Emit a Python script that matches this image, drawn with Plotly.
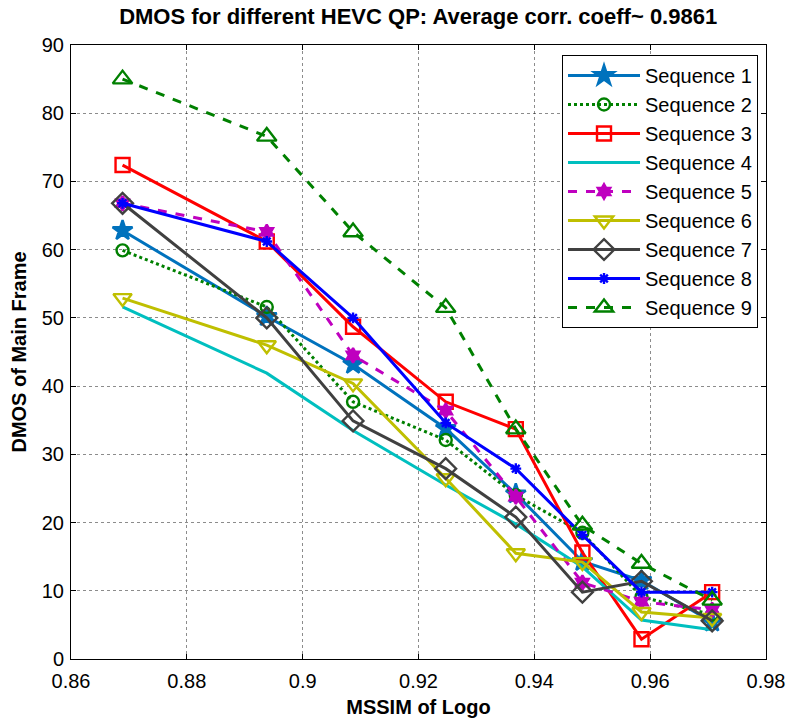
import plotly.graph_objects as go

mssim = [0.8689, 0.8938, 0.9087, 0.9247, 0.9368, 0.9483, 0.9585, 0.9707]

seq1 = [62.8, 50.2, 43.2, 33.8, 24.2, 14.3, 11.5, 5.4]
seq2 = [59.9, 51.6, 37.7, 32.1, 24.0, 18.5, 9.1, 6.5]
seq3 = [72.4, 61.2, 48.7, 37.7, 33.7, 15.6, 2.9, 9.8]
seq4 = [51.6, 41.9, 33.5, 25.5, 19.8, 13.5, 5.7, 4.3]
seq5 = [66.8, 62.6, 44.5, 36.4, 23.8, 11.2, 8.4, 7.2]
seq6 = [52.9, 46.0, 40.4, 26.5, 15.5, 14.2, 6.9, 6.0]
seq7 = [66.8, 50.0, 34.9, 27.9, 20.8, 9.8, 11.4, 5.6]
seq8 = [66.8, 61.2, 50.0, 34.6, 27.9, 18.2, 9.8, 9.8]
seq9 = [85.0, 76.6, 62.6, 51.5, 33.7, 19.6, 14.0, 8.6]

names = ["Sequence 1", "Sequence 2", "Sequence 3", "Sequence 4", "Sequence 5",
         "Sequence 6", "Sequence 7", "Sequence 8", "Sequence 9"]
series = [seq1, seq2, seq3, seq4, seq5, seq6, seq7, seq8, seq9]

x_ticks = [0.86, 0.88, 0.9, 0.92, 0.94, 0.96, 0.98]
x_ticklabels = ["0.86", "0.88", "0.9", "0.92", "0.94", "0.96", "0.98"]
y_ticks = [0, 10, 20, 30, 40, 50, 60, 70, 80, 90]

styles = [
    dict(color="#0072BD", dash="solid", symbol="star", size=15),
    dict(color="#008000", dash="dot", symbol="circle-open", size=12),
    dict(color="#FF0000", dash="solid", symbol="square-open", size=14),
    dict(color="#00BFBF", dash="solid", symbol=None, size=0),
    dict(color="#BF00BF", dash="dash", symbol="hexagram", size=11),
    dict(color="#BFBF00", dash="solid", symbol="triangle-down-open", size=16),
    dict(color="#404040", dash="solid", symbol="diamond-open", size=16),
    dict(color="#0000FF", dash="solid", symbol="asterisk-open", size=9),
    dict(color="#008000", dash="dash", symbol="triangle-up-open", size=17),
]

FONT = "Liberation Sans, Arial, sans-serif"

fig = go.Figure()
for i, (nm, ys, st) in enumerate(zip(names, series, styles)):
    if st["symbol"] is None:
        mode = "lines"
        marker = None
    else:
        mode = "lines+markers"
        marker = dict(symbol=st["symbol"], size=st["size"], color=st["color"],
                      line=dict(color=st["color"], width=2.4))
    fig.add_trace(go.Scatter(
        x=mssim, y=ys, name=nm, mode=mode,
        line=dict(color=st["color"], width=3, dash=st["dash"]),
        marker=marker, legendgroup="g%d" % i,
    ))

axis_common = dict(
    showline=True, linecolor="black", linewidth=1, mirror="ticks",
    ticks="inside", ticklen=5, tickcolor="black",
    showgrid=True, gridcolor="rgba(0,0,0,0.45)", gridwidth=1, griddash="dot",
    zeroline=False, tickfont=dict(family=FONT, size=20, color="black"),
)

fig.update_layout(
    width=789, height=720,
    paper_bgcolor="white", plot_bgcolor="white",
    margin=dict(l=71, r=23, t=45, b=61, autoexpand=False),
    title=dict(text="<b>DMOS for different HEVC QP: Average corr. coeff~ 0.9861</b>",
               x=0.53, xanchor="center", y=0.977, yanchor="middle",
               font=dict(family=FONT, size=22, color="black")),
    xaxis=dict(range=[0.86, 0.98], tickvals=x_ticks, ticktext=x_ticklabels,
               ticklabelstandoff=4,
               title=dict(text="<b>MSSIM of Logo</b>", standoff=8,
                          font=dict(family=FONT, size=20, color="black")),
               **axis_common),
    yaxis=dict(range=[0, 90], tickvals=y_ticks, ticklabelstandoff=2,
               title=dict(text="<b>DMOS of Main Frame</b>", standoff=9,
                          font=dict(family=FONT, size=20, color="black")),
               **axis_common),
    legend=dict(x=0.9885, xanchor="right", y=0.9837, yanchor="top",
                bgcolor="white", bordercolor="black", borderwidth=1,
                font=dict(family=FONT, size=20, color="black"),
                itemwidth=72, traceorder="grouped", tracegroupgap=0),
    showlegend=True,
)

fig.write_html("out.html", config={"displayModeBar": False},
               post_script="document.body.style.margin='0';document.body.style.overflow='hidden';")
